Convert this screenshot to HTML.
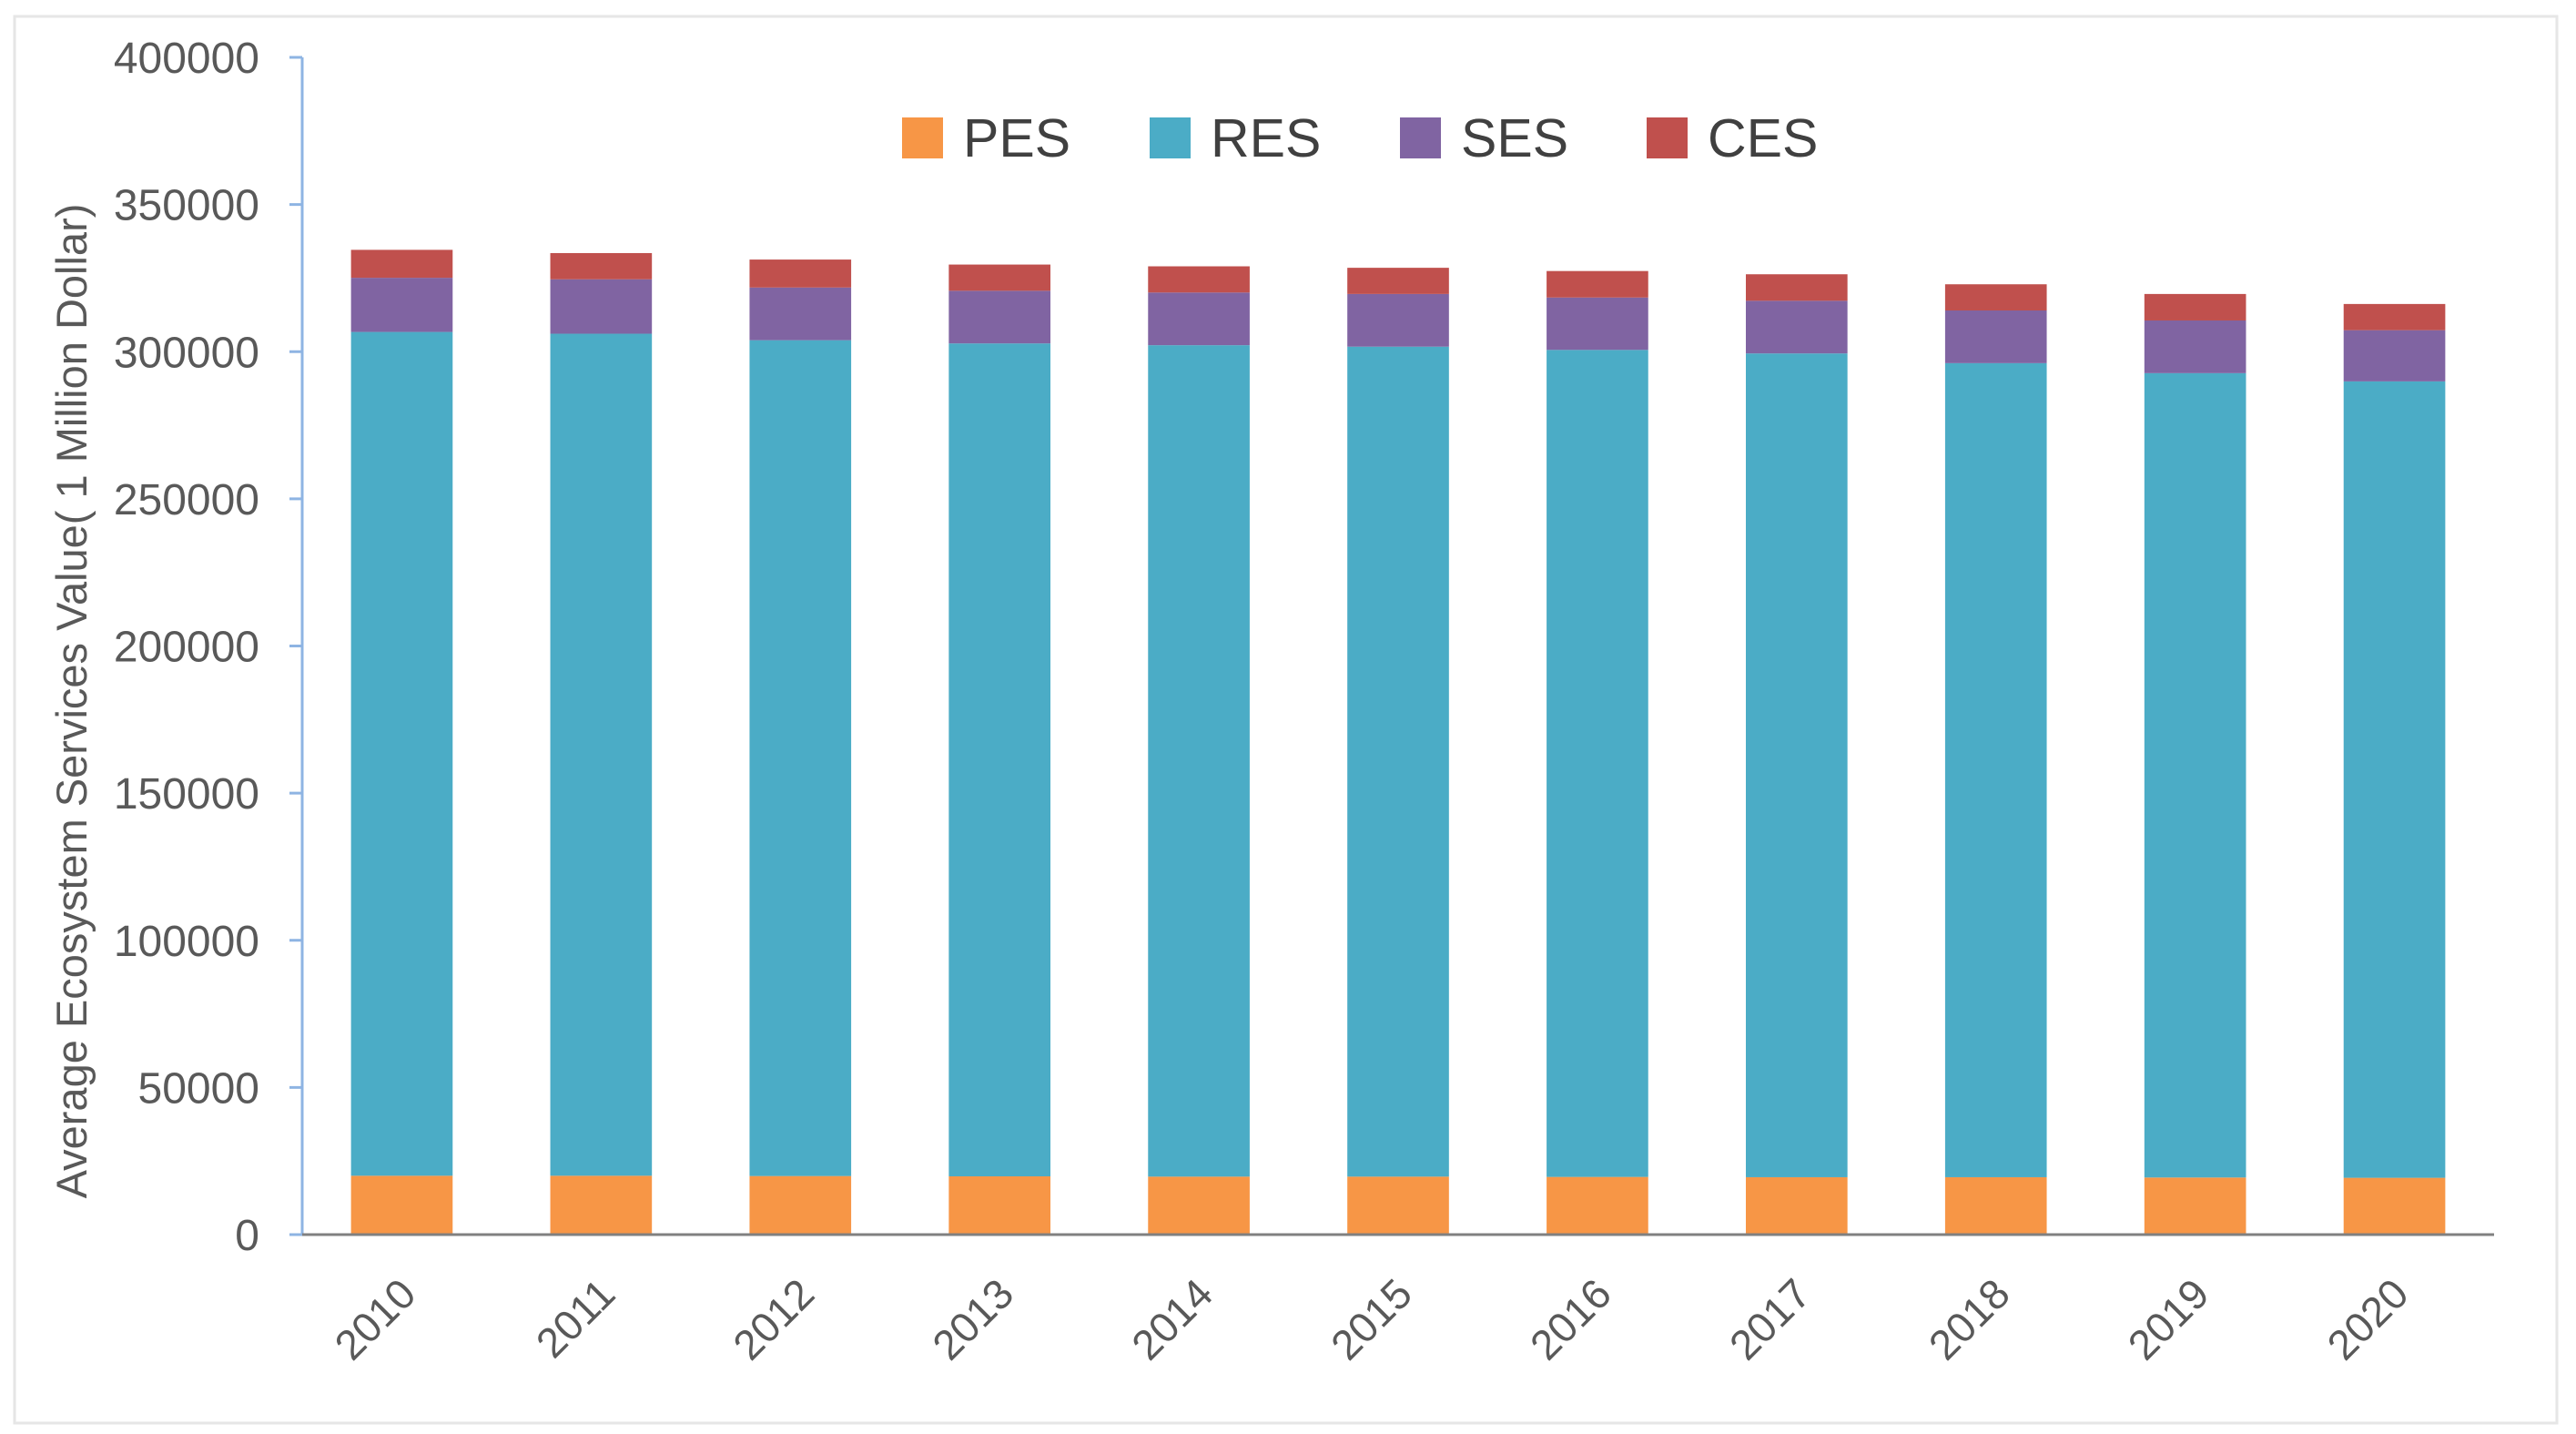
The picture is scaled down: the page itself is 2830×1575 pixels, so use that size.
<!DOCTYPE html>
<html><head><meta charset="utf-8"><style>
html,body{margin:0;padding:0;background:#fff;}
svg{display:block;font-family:"Liberation Sans",sans-serif;}
</style></head><body>
<svg id="chart" width="2830" height="1575" viewBox="0 0 2830 1575">
<rect x="16" y="18" width="2793" height="1545" fill="#fff" stroke="#e6e6e6" stroke-width="3"/>
<g id="plot"></g>
</svg>
<script>
const categories=["2010","2011","2012","2013","2014","2015","2016","2017","2018","2019","2020"];
const pes=[20000,20000,19900,19800,19700,19700,19600,19500,19500,19400,19300];
const res=[286700,286100,284000,283000,282500,282000,281000,279900,276600,273300,270600];
const ses=[18400,18500,17900,17900,17900,17900,17800,17900,17900,17900,17400];
const ces=[9500,8900,9500,8900,8900,8900,9000,9000,8900,9000,8900];
const yTicks=[0,50000,100000,150000,200000,250000,300000,350000,400000];
const seriesNames=["PES","RES","SES","CES"];
const colors=["#F79646","#4BACC6","#8064A2","#C0504D"];
const NS="http://www.w3.org/2000/svg";
const g=document.getElementById('plot');
const x0=332,x1=2740,yTop=63,yBot=1356,yMax=400000;
const band=(x1-x0)/categories.length;
function yScale(v){return yBot-(v/yMax)*(yBot-yTop);}
function xCenter(i){return x0+band*(i+0.5);}
function mk(t,a){const e=document.createElementNS(NS,t);for(const k in a)e.setAttribute(k,a[k]);g.appendChild(e);return e;}
let ya=mk('line',{x1:x0,y1:yTop,x2:x0,y2:yBot,stroke:'#8EB4E3','stroke-width':3});


yTicks.forEach(v=>{
 const y=yScale(v);
 let t=mk('line',{x1:x0-14,y1:y,x2:x0,y2:y,stroke:'#8EB4E3','stroke-width':3});
 
 
 let l=mk('text',{x:285,y:y+17,'text-anchor':'end','font-size':48,fill:'#595959'});
 l.textContent=String(v);
 
 
});
const series=[pes,res,ses,ces];
categories.forEach((c,i)=>{
 let base=0;const bw=band*0.51;const cx=xCenter(i);
 series.forEach((s,k)=>{
  const yb=yScale(base),yt=yScale(base+s[i]);
  let r=mk('rect',{x:cx-bw/2,y:yt,width:bw,height:yb-yt,fill:colors[k]});
  
  
  base+=s[i];
 });
 let l=mk('text',{x:0,y:0,'text-anchor':'end','font-size':46,fill:'#595959',transform:`translate(${cx+18},${yBot+68}) rotate(-45)`});
 l.textContent=c;
 
 
});
let xa=mk('line',{x1:x0,y1:yBot,x2:x1,y2:yBot,stroke:'#808080','stroke-width':3});


let yt=mk('text',{x:0,y:0,'text-anchor':'middle','font-size':47,fill:'#595959',transform:'translate(95,770) rotate(-90)'});
yt.textContent='Average Ecosystem Services Value( 1 Million Dollar)';


const legX=[991,1263,1538,1809];
seriesNames.forEach((n,k)=>{
 let s=mk('rect',{x:legX[k],y:129,width:45,height:45,fill:colors[k]});
 
 
 let t=mk('text',{x:legX[k]+67,y:172,'font-size':59,fill:'#404040'});
 t.textContent=n;
 
 
});
</script>
</body></html>
